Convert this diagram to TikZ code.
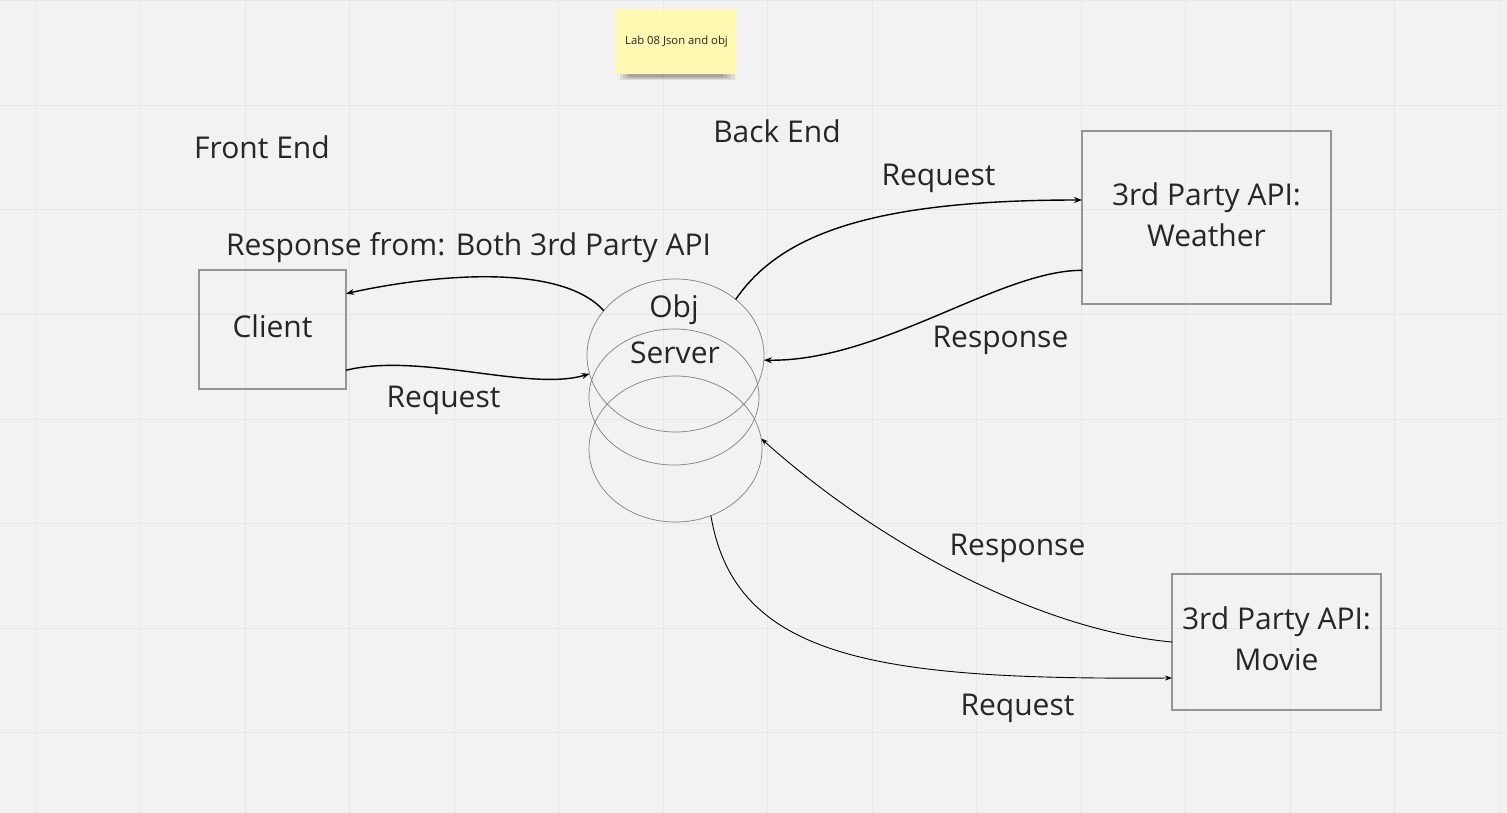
\documentclass[tikz,border=0pt]{standalone}
\usepackage{fontspec}
\setmainfont{Open Sans}
\usepackage{tikz}
\usetikzlibrary{positioning}
\usetikzlibrary{shapes.geometric}
\usetikzlibrary{arrows.meta}

\definecolor{boardbg}{HTML}{F2F2F2}
\definecolor{gridgray}{HTML}{E6E6E6}
\definecolor{notefill}{HTML}{FFF8B0}
\definecolor{inkgray}{HTML}{262626}

\begin{document}
\begin{tikzpicture}[x=1pt, y=-1pt,
        lbl/.style={font=\fontsize{30}{41}\selectfont, text=inkgray, inner sep=0, anchor=base},
        box/.style={draw=black!42, line width=1.3pt, inner sep=0, outer sep=0, align=center, text depth=6pt, font=\fontsize{30}{41}\selectfont, text=inkgray},
        srv/.style={draw=black!50, line width=0.7pt, ellipse, inner sep=0, outer sep=0},
        note/.style={fill=notefill, inner sep=0, minimum width=121, minimum height=65, font=\fontsize{11.3}{13}\selectfont, text=inkgray},
        link/.style={draw, line width=1.4pt, -{Stealth[length=8pt, width=6pt]}},
        thinlink/.style={draw, line width=0.9pt, -{Stealth[length=7pt, width=5pt]}},
        gridline/.style={draw=gridgray, line width=1pt}]

        \useasboundingbox (0,0) rectangle (1507,813);
        \path[fill=boardbg] (0,0) rectangle (1507,813);

        % board grid
        \foreach \i in {0,...,14}
            \path[gridline] ({36+104.5*\i},0) -- ({36+104.5*\i},813);
        \foreach \j in {0,...,7}
            \path[gridline] (0,{1+104.5*\j}) -- (1507,{1+104.5*\j});

        % sticky note
        \foreach \s in {0,1,2,3}
            \path[fill=black, opacity=0.09] ({620+3*\s},{68+\s}) rectangle ({735-4*\s},{80-\s});
        \node[note] (note) at (676.5,42) {Lab 08 Json and obj};

        \node[box, minimum width=147, minimum height=119] (client) at (272.5,329.5) {Client};
        \node[box, minimum width=249, minimum height=173] (weather) at (1206.5,217.5) {3rd Party API:\\Weather};
        \node[box, minimum width=209, minimum height=136] (movie) at (1276.5,642) {3rd Party API:\\Movie};

        \node[srv, minimum width=177, minimum height=153] (srvtop) at (675.5,355.5) {};
        \node[srv, minimum width=170, minimum height=136] (srvmid) at (674,397) {};
        \node[srv, minimum width=173, minimum height=146] (srvbot) at (675.5,449) {};

        \node[lbl] (objlbl) at (674,317) {Obj};
        \node[lbl] (serverlbl) at (675,363) {Server};

        \node[lbl] (frontlbl) at (262,159) {Front End};
        \node[lbl] (backlbl) at (777,143) {Back End};
        \node[lbl] (bothlbl) at (468.5,255) {Response from: Both 3rd Party API};
        \node[lbl] (reqclient) at (443.5,407) {Request};
        \node[lbl] (reqweather) at (938.5,186) {Request};
        \node[lbl] (respweather) at (1000.5,347) {Response};
        \node[lbl] (respmovie) at (1017.5,555) {Response};
        \node[lbl] (reqmovie) at (1017.5,715) {Request};

        \path[link] (srvtop.148) .. controls (560,262) and (430,275) .. (client.26);
        \path[link] (client.-29) .. controls (420,352) and (530,392) .. (srvtop.192);
        \path[link] (srvtop.43.5) .. controls (780,235) and (870,200) .. (weather.172.5);
        \path[link] (weather.203.6) .. controls (1000,270) and (880,362) .. (srvtop.-3);
        \path[thinlink] (movie.west) .. controls (1040,630) and (880,545) .. (srvbot.7);
        \path[thinlink] (srvbot.-62) .. controls (735,660) and (880,680) .. (movie.199);

    \end{tikzpicture}
\end{document}
